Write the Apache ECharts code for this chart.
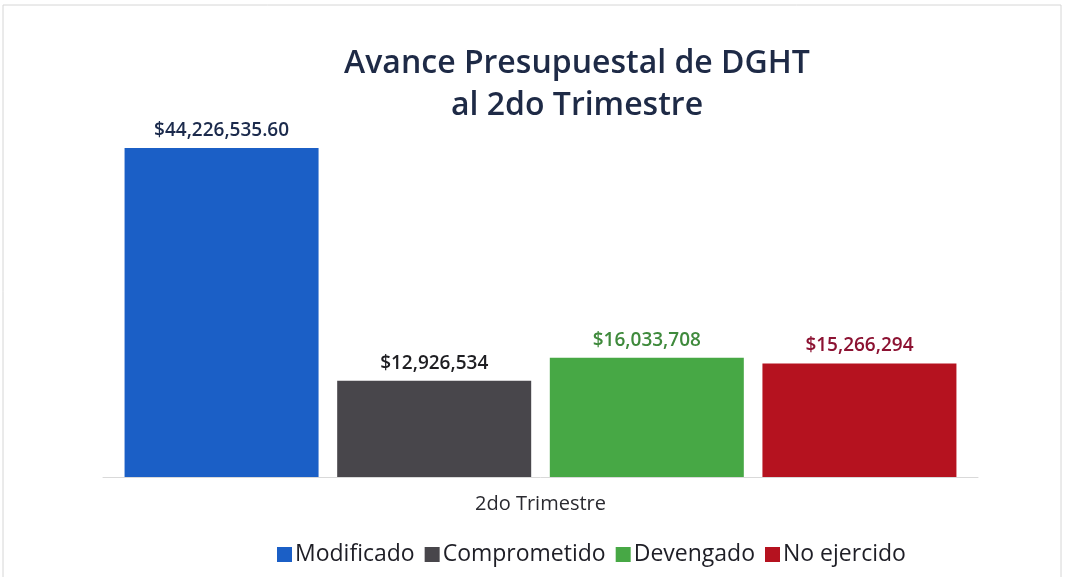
<!DOCTYPE html>
<html>
<head>
<meta charset="utf-8">
<script src="https://cdn.jsdelivr.net/npm/echarts@6/dist/echarts.min.js"></script>
<style>
  html, body { margin: 0; padding: 0; background: #fff; }
  #chart { width: 1065px; height: 577px; }
</style>
</head>
<body>
<div id="chart"></div>
<script>
const categories = ['2do Trimestre']
const seriesNames = ['Modificado', 'Comprometido', 'Devengado', 'No ejercido']
const seriesValues = [44226535.60, 12926534, 16033708, 15266294]

const barColors = ['#1b5fc6', '#48464b', '#47a845', '#b5121f']
const labelColors = ['#1b2a4c', '#1e1e22', '#3f8a3c', '#8c1232']

function money(v) {
  const s = Number.isInteger(v) ? v.toString() : v.toFixed(2)
  const parts = s.split('.')
  parts[0] = parts[0].replace(/\B(?=(\d{3})+(?!\d))/g, ',')
  return '$' + parts.join('.')
}

const chart = echarts.init(document.getElementById('chart'))
chart.setOption({
  backgroundColor: '#fff',
  animation: false,
  title: {
    text: 'Avance Presupuestal de DGHT\nal 2do Trimestre',
    left: 572,
    textAlign: 'center',
    top: 38,
    textStyle: {
      fontFamily: 'Open Sans',
      fontSize: 32,
      fontWeight: 600,
      lineHeight: 42,
      color: '#1e2a46'
    }
  },
  graphic: [{
    type: 'rect',
    shape: { x: 3, y: 5, width: 1058, height: 580 },
    style: { fill: 'none', stroke: '#d6d6d6', lineWidth: 1 },
    silent: true
  }],
  legend: {
    bottom: 6,
    left: 272,
    itemWidth: 15,
    itemHeight: 15,
    itemGap: 10,
    icon: 'rect',
    textStyle: {
      fontFamily: 'Open Sans',
      fontSize: 23,
      color: '#1e1e26',
      padding: [0, 0, 0, -2]
    },
    data: seriesNames
  },
  grid: {
    left: 103,
    right: 87,
    top: 148,
    bottom: 100
  },
  xAxis: {
    type: 'category',
    data: categories,
    axisLine: { lineStyle: { color: '#d9d9d9', width: 1 } },
    axisTick: { show: false },
    axisLabel: {
      fontFamily: 'Open Sans',
      fontSize: 20,
      color: '#2a2a30',
      margin: 17
    }
  },
  yAxis: {
    type: 'value',
    show: false,
    min: 0,
    max: 44226535.60,
    splitLine: { show: false }
  },
  series: seriesNames.map((name, i) => ({
    name: name,
    type: 'bar',
    barWidth: 194,
    barGap: '9.6%',
    data: [seriesValues[i]],
    itemStyle: { color: barColors[i] },
    label: {
      show: true,
      position: 'top',
      distance: 8,
      fontFamily: 'Open Sans',
      fontSize: 19,
      fontWeight: 600,
      color: labelColors[i],
      formatter: p => money(p.value)
    }
  }))
})
</script>
</body>
</html>
